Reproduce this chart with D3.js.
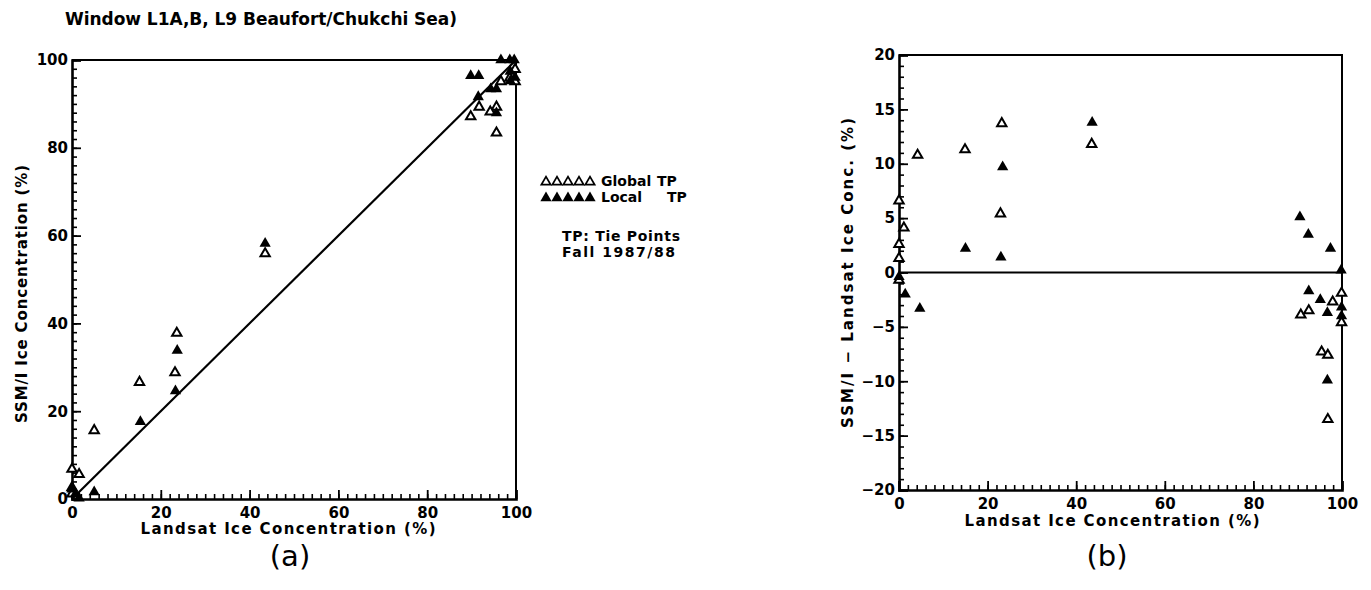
<!DOCTYPE html>
<html><head><meta charset="utf-8">
<script src="https://cdn.jsdelivr.net/npm/d3@7"></script>
<style>
body{margin:0;background:#fff;}
svg{display:block;}
text{font-family:"DejaVu Sans",Arial,sans-serif;fill:#000;}
</style></head>
<body><svg id="c" width="1371" height="590"></svg>
<script>
// ---------- data ----------
const titleText = "Window L1A,B, L9 Beaufort/Chukchi Sea)";
const xLabel = "Landsat Ice Concentration (%)";
const yLabelA = "SSM/I Ice Concentration (%)";
const yLabelB = "SSM/I \u2212 Landsat Ice Conc. (%)";
const xTicks = [0, 20, 40, 60, 80, 100];
const yTicksA = [0, 20, 40, 60, 80, 100];
const yTicksB = [-20, -15, -10, -5, 0, 5, 10, 15, 20];
const legendSeries = ["Global", "Local"];
const legendNotes = ["TP: Tie Points", "Fall 1987/88"];

// panel (a): [Landsat %, SSM/I %]
const globalA = [[0,6.8],[1.6,5.6],[0,2.6],[0,1.2],[5,15.6],[15.2,26.6],[23.6,37.8],[23.2,28.8],[43.5,55.9],
  [89.8,87.1],[91.7,89.3],[95.6,83.4],[95.6,89.3],[94.2,88.2],[96.6,95.1],[98.6,95.9],[99.8,97.9],[99.8,95.1]];
const localA = [[0,2.2],[0.8,1.2],[1.6,0.2],[5,1.6],[15.4,17.6],[23.3,24.6],[23.7,33.8],[43.5,58.2],
  [89.8,96.4],[91.6,96.4],[91.5,91.6],[94.3,93.4],[95.6,93.4],[95.6,87.9],[96.6,100],[98.6,100],[99.6,100],
  [98.7,97.4],[98.7,95.2],[99.8,96.0]];

// panel (b): [Landsat %, SSM/I - Landsat %]
const globalB = [[0,6.6],[1.1,4.1],[0,2.6],[0,1.3],[0,-0.7],[4.2,10.8],[14.9,11.3],[23.2,13.7],[22.9,5.4],[43.5,11.8],
  [90.7,-3.9],[92.5,-3.5],[97.9,-2.7],[99.9,-1.9],[99.9,-4.6],[95.4,-7.3],[96.8,-7.6],[96.8,-13.5]];
const localB = [[0,-0.4],[1.4,-2.0],[4.7,-3.3],[15,2.2],[23,1.4],[23.4,9.7],[43.6,13.8],
  [90.5,5.1],[92.4,3.5],[97.4,2.2],[92.5,-1.7],[95.1,-2.5],[96.7,-3.7],[99.9,-4.0],[99.9,-3.2],[96.7,-9.9],[99.8,0.2]];

// ---------- drawing ----------
const svg = d3.select("#c");
const triOpen = d3.symbol().type(d3.symbolTriangle).size(38);
const triFill = d3.symbol().type(d3.symbolTriangle).size(55);

function panel(o){
  const g = svg.append("g");
  const x = d3.scaleLinear().domain([0,100]).range([o.x0, o.x1]);
  const y = d3.scaleLinear().domain(o.yDom).range([o.y0, o.y1]);
  g.append("path").attr("d", `M${o.x0},${o.y1}H${o.x1}V${o.y0}`)
    .attr("fill","none").attr("stroke","#000").attr("stroke-width",2);
  const minorX = d3.range(0,101,2);
  const minorY = d3.range(o.yDom[0], o.yDom[1]+0.001, o.yMinor);
  g.append("g").attr("transform",`translate(0,${o.y0})`)
    .call(d3.axisBottom(x).tickValues(minorX).tickSize(-5).tickFormat(""))
    .call(s=>{s.select(".domain").remove(); s.selectAll("line").attr("stroke-width",1.6);});
  g.append("g").attr("transform",`translate(${o.x0},0)`)
    .call(d3.axisLeft(y).tickValues(minorY).tickSize(-5).tickFormat(""))
    .call(s=>{s.select(".domain").remove(); s.selectAll("line").attr("stroke-width",1.6);});
  const ax = g.append("g").attr("transform",`translate(0,${o.y0})`)
    .call(d3.axisBottom(x).tickValues(xTicks).tickSize(-9).tickPadding(14).tickFormat(d3.format("d")));
  ax.select(".domain").attr("stroke-width",2.6);
  ax.selectAll("line").attr("stroke-width",1.8);
  ax.selectAll("text").attr("font-size",15).attr("font-weight","bold").attr("dy","0.3em").attr("fill","#000");
  const ay = g.append("g").attr("transform",`translate(${o.x0},0)`)
    .call(d3.axisLeft(y).tickValues(o.yTicks).tickSize(-9).tickPadding(14).tickFormat(d=>d<0?"\u2212"+Math.abs(d):d));
  ay.select(".domain").attr("stroke-width",2.6);
  ay.selectAll("line").attr("stroke-width",1.8);
  ay.selectAll("text").attr("font-size",15).attr("font-weight","bold").attr("x",-4).attr("fill","#000");
  g.append("line").attr("x1",x(o.ref[0][0])).attr("y1",y(o.ref[0][1])).attr("x2",x(o.ref[1][0])).attr("y2",y(o.ref[1][1]))
    .attr("stroke","#000").attr("stroke-width",2.2);
  g.selectAll(".op").data(o.open).enter().append("path")
    .attr("d",triOpen).attr("transform",d=>`translate(${x(d[0])},${y(d[1])})`)
    .attr("fill","#fff").attr("stroke","#000").attr("stroke-width",2);
  g.selectAll(".fp").data(o.fill).enter().append("path")
    .attr("d",triFill).attr("transform",d=>`translate(${x(d[0])},${y(d[1])})`)
    .attr("fill","#000");
  g.append("text").attr("x",o.xlx).attr("y",o.xly).attr("text-anchor","middle").attr("dominant-baseline","middle")
    .attr("font-size",15).attr("font-weight","bold").attr("textLength",295).attr("lengthAdjust","spacing").text(xLabel);
  g.append("text").attr("transform",`translate(${o.ylx},${o.yly}) rotate(-90)`).attr("text-anchor","middle")
    .attr("dominant-baseline","middle").attr("font-size",15).attr("font-weight","bold")
    .attr("textLength",o.ylLen).attr("lengthAdjust","spacing").text(o.yLabel);
  svg.append("text").attr("x",o.tagx).attr("y",566).attr("text-anchor","middle")
    .attr("font-family","Liberation Sans, Arial, sans-serif").attr("font-size",29).text(o.tag);
}

panel({x0:72,x1:516,y0:499,y1:60,yDom:[0,100],yMinor:2,yTicks:yTicksA,ref:[[0,0],[100,100]],
  open:globalA,fill:localA,xlx:288,xly:529,ylx:22,yly:294,ylLen:258,yLabel:yLabelA,tag:"(a)",tagx:290});
panel({x0:899,x1:1342,y0:490,y1:55,yDom:[-20,20],yMinor:1,yTicks:yTicksB,ref:[[0,0],[100,0]],
  open:globalB,fill:localB,xlx:1112,xly:521,ylx:848,yly:273,ylLen:310,yLabel:yLabelB,tag:"(b)",tagx:1107});

svg.append("text").attr("x",65).attr("y",20).attr("dominant-baseline","middle").attr("font-size",17)
  .attr("font-weight","bold").attr("textLength",392).attr("lengthAdjust","spacing").text(titleText);

// legend
const lg = svg.append("g");
const tpX = [657, 667];
legendSeries.forEach((name,i)=>{
  const yy = 182 + i*16;
  d3.range(5).forEach(k=>{
    lg.append("path").attr("d", i===0?triOpen:triFill)
      .attr("transform",`translate(${546+k*11},${yy})`)
      .attr("fill", i===0?"#fff":"#000").attr("stroke", i===0?"#000":"none").attr("stroke-width",1.7);
  });
  lg.append("text").attr("x",601).attr("y",yy).attr("dominant-baseline","middle").attr("font-size",14)
    .attr("font-family","Liberation Sans, Arial, sans-serif").attr("font-weight","bold").text(name);
  lg.append("text").attr("x",tpX[i]).attr("y",yy).attr("dominant-baseline","middle").attr("font-size",14)
    .attr("font-family","Liberation Sans, Arial, sans-serif").attr("font-weight","bold").text("TP");
});
legendNotes.forEach((t,i)=>{
  lg.append("text").attr("x",562).attr("y",237+i*16).attr("dominant-baseline","middle").attr("font-size",14)
    .attr("font-weight","bold").attr("textLength",i===0?118:113).attr("lengthAdjust","spacing").text(t);
});
</script></body></html>
